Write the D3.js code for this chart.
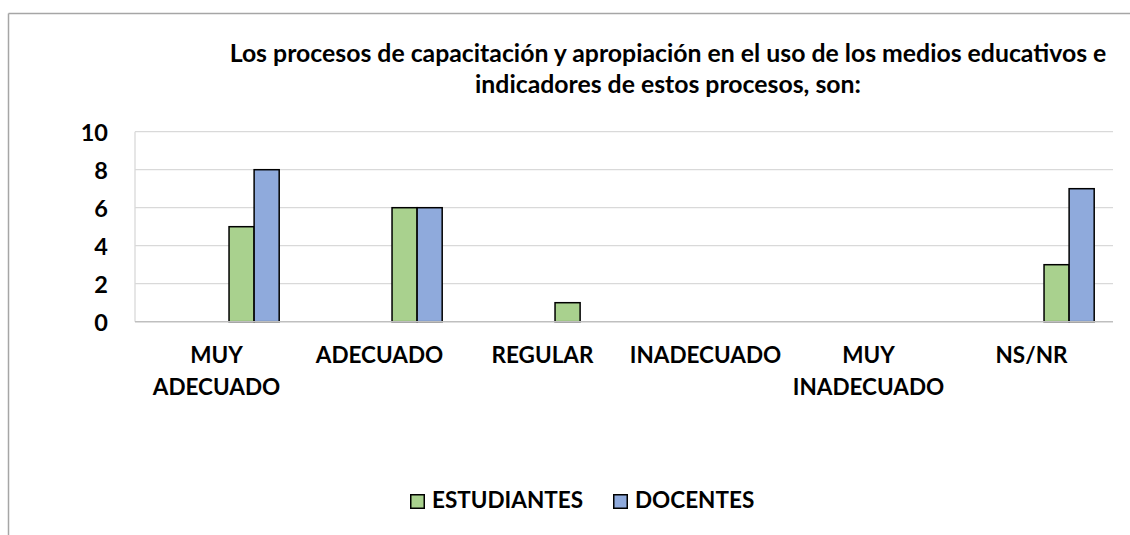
<!DOCTYPE html>
<html>
<head>
<meta charset="utf-8">
<script src="https://cdn.jsdelivr.net/npm/d3@7"></script>
<style>
    body { margin: 0; background: white; }
    text { font-family: Lato, "Open Sans", sans-serif; font-weight: bold; fill: #000; }
</style>
</head>
<body>
<svg id="chart"></svg>
<script>
// Data
const categories = ["MUY ADECUADO", "ADECUADO", "REGULAR", "INADECUADO", "MUY INADECUADO", "NS/NR"];
const estudiantes = [5, 6, 1, 0, 0, 3];
const docentes = [8, 6, 0, 0, 0, 7];
const seriesNames = ["ESTUDIANTES", "DOCENTES"];
const yTicks = [0, 2, 4, 6, 8, 10];
const titleLines = [
    "Los procesos de capacitación y apropiación en el uso de los medios educativos e",
    "indicadores de estos procesos, son:"
];

// Dimensions
const width = 1130;
const height = 535;
const plot = { left: 135, right: 1113, top: 131.7, bottom: 321.7 };

const colors = { "ESTUDIANTES": "#a9d18e", "DOCENTES": "#8faadc" };

const svg = d3.select("#chart")
    .attr("width", width)
    .attr("height", height);

// outer frame (only top and left visible)
svg.append("line")
    .attr("x1", 8.5).attr("x2", width)
    .attr("y1", 13.5).attr("y2", 13.5)
    .attr("stroke", "#a6a6a6").attr("stroke-width", 1.5);
svg.append("line")
    .attr("x1", 8.5).attr("x2", 8.5)
    .attr("y1", 13.5).attr("y2", height)
    .attr("stroke", "#a6a6a6").attr("stroke-width", 1.5);

// title
svg.append("text")
    .attr("text-anchor", "middle")
    .style("font-size", "24.8px")
    .selectAll("tspan")
    .data(titleLines)
    .join("tspan")
    .attr("x", 668)
    .attr("y", (d, i) => 62 + i * 31)
    .text(d => d);

const x0 = d3.scaleBand()
    .domain(categories)
    .range([plot.left, plot.right]);

// the source sheet has 3 empty series before the two shown
const x1 = d3.scaleBand()
    .domain(["s1", "s2", "s3"].concat(seriesNames))
    .range([0, x0.bandwidth()])
    .paddingOuter(0.75);

const y = d3.scaleLinear()
    .domain([0, 10])
    .range([plot.bottom, plot.top]);

// grid
svg.append("g")
    .selectAll("line")
    .data(yTicks.filter(d => d > 0))
    .join("line")
    .attr("x1", plot.left).attr("x2", plot.right)
    .attr("y1", d => y(d)).attr("y2", d => y(d))
    .attr("stroke", "#d9d9d9").attr("stroke-width", 1.3);

svg.append("line")
    .attr("x1", plot.left).attr("x2", plot.left)
    .attr("y1", y(10)).attr("y2", y(0))
    .attr("stroke", "#d9d9d9").attr("stroke-width", 1.3);

// bars
const rows = categories.map((c, i) => ({
    cat: c,
    values: [
        { key: "ESTUDIANTES", value: estudiantes[i] },
        { key: "DOCENTES", value: docentes[i] }
    ]
}));

svg.append("g")
    .selectAll("g")
    .data(rows)
    .join("g")
    .attr("transform", d => `translate(${x0(d.cat)},0)`)
    .selectAll("rect")
    .data(d => d.values.filter(v => v.value > 0))
    .join("rect")
    .attr("x", d => x1(d.key))
    .attr("y", d => y(d.value))
    .attr("width", x1.bandwidth())
    .attr("height", d => y(0) - y(d.value))
    .attr("fill", d => colors[d.key])
    .attr("stroke", "#000")
    .attr("stroke-width", 1.5);

// x axis line
svg.append("line")
    .attr("x1", plot.left).attr("x2", plot.right)
    .attr("y1", y(0)).attr("y2", y(0))
    .attr("stroke", "#bfbfbf").attr("stroke-width", 1.5);

// y axis labels
const yAxis = svg.append("g")
    .attr("transform", `translate(${plot.left},0)`)
    .call(d3.axisLeft(y).tickValues(yTicks).tickSize(0).tickPadding(27));
yAxis.select(".domain").remove();
yAxis.selectAll("text")
    .style("font-family", "Lato, sans-serif")
    .style("font-weight", "bold")
    .style("font-size", "23.5px")
    .attr("dy", "0.38em");

// x labels, wrapped like the original
const xLabelLines = {
    "MUY ADECUADO": ["MUY", "ADECUADO"],
    "MUY INADECUADO": ["MUY", "INADECUADO"]
};
svg.append("g")
    .selectAll("text")
    .data(categories)
    .join("text")
    .attr("text-anchor", "middle")
    .style("font-size", "22.5px")
    .each(function(d) {
        const lines = xLabelLines[d] || [d];
        d3.select(this).selectAll("tspan")
            .data(lines)
            .join("tspan")
            .attr("x", x0(d) + x0.bandwidth() / 2)
            .attr("y", (l, i) => 363 + i * 32)
            .text(l => l);
    });

// legend
const legendX = [410, 613];
const legend = svg.append("g")
    .selectAll("g")
    .data(seriesNames)
    .join("g")
    .attr("transform", (d, i) => `translate(${legendX[i]},494)`);

legend.append("rect")
    .attr("x", 0.75).attr("y", 0.75)
    .attr("width", 13.5).attr("height", 13.5)
    .attr("fill", d => colors[d])
    .attr("stroke", "#000")
    .attr("stroke-width", 1.5);

legend.append("text")
    .attr("x", 22)
    .attr("y", 14)
    .style("font-size", "22.5px")
    .text(d => d);
</script>
</body>
</html>
